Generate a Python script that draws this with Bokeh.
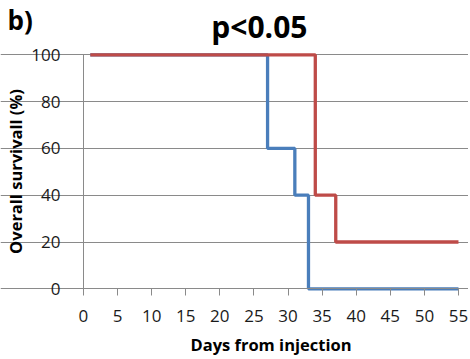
from bokeh.plotting import figure
from bokeh.models import Range1d, Label, FixedTicker
from bokeh.embed import file_html
from bokeh.resources import INLINE

# Kaplan-Meier style survival steps
days_blue = [1, 27, 31, 33, 55]
surv_blue = [100, 60, 40, 0, 0]
days_red = [1, 34, 37, 55]
surv_red = [100, 40, 20, 20]
x_ticks = [0, 5, 10, 15, 20, 25, 30, 35, 40, 45, 50, 55]
y_ticks = [0, 20, 40, 60, 80, 100]

FONT = "Open Sans"
GRID = "#8a8a8a"

# frame covers the whole canvas; axes are pinned at x=0 / y=0
p = figure(width=468, height=359, output_backend="svg", toolbar_location=None,
           x_range=Range1d(-12.17, 56.47), y_range=Range1d(-30.2, 123.2),
           min_border=0, title=None)
p.outline_line_color = None
p.background_fill_color = "white"

p.xgrid.visible = False
p.ygrid.ticker = FixedTicker(ticks=y_ticks)
p.ygrid.grid_line_color = GRID
p.ygrid.grid_line_width = 1
p.ygrid.bounds = (0, 55)

p.step(days_blue, surv_blue, mode="after", line_color="#4A7EBB", line_width=3.3)
p.step(days_red, surv_red, mode="after", line_color="#BE4B48", line_width=3.3)

xa = p.xaxis[0]
xa.fixed_location = 0
xa.bounds = (0, 55)
xa.ticker = FixedTicker(ticks=x_ticks)
xa.axis_line_color = GRID
xa.major_tick_line_color = GRID
xa.major_tick_in = 0
xa.major_tick_out = 7
xa.minor_tick_line_color = None
xa.major_label_text_font = FONT
xa.major_label_text_font_size = "17px"
xa.major_label_text_color = "#1a1a1a"
xa.major_label_standoff = 14
xa.axis_label = "Days from injection"
xa.axis_label_text_font = FONT
xa.axis_label_text_font_size = "16.5px"
xa.axis_label_text_font_style = "bold"
xa.axis_label_text_color = "black"
xa.axis_label_standoff = 8

ya = p.yaxis[0]
ya.fixed_location = 0
ya.bounds = (0, 100)
ya.ticker = FixedTicker(ticks=y_ticks)
ya.axis_line_color = GRID
ya.major_tick_line_color = GRID
ya.major_tick_in = 0
ya.major_tick_out = 7
ya.minor_tick_line_color = None
ya.major_label_text_font = FONT
ya.major_label_text_font_size = "17px"
ya.major_label_text_color = "#1a1a1a"
ya.major_label_standoff = 16
ya.axis_label = "Overall survivall (%)"
ya.axis_label_text_font = FONT
ya.axis_label_text_font_size = "16.5px"
ya.axis_label_text_font_style = "bold"
ya.axis_label_text_color = "black"
ya.axis_label_standoff = 1

p.add_layout(Label(x=25.8, y=112.0, text="p<0.05", text_font=FONT,
                   text_font_size="30px", text_font_style="bold",
                   text_align="center", text_baseline="alphabetic",
                   text_color="black"))
p.add_layout(Label(x=-11.15, y=114.8, text="b)", text_font=FONT,
                   text_font_size="26px", text_font_style="bold",
                   text_align="left", text_baseline="alphabetic",
                   text_color="black"))

open("out.html", "w").write(file_html(p, INLINE))
